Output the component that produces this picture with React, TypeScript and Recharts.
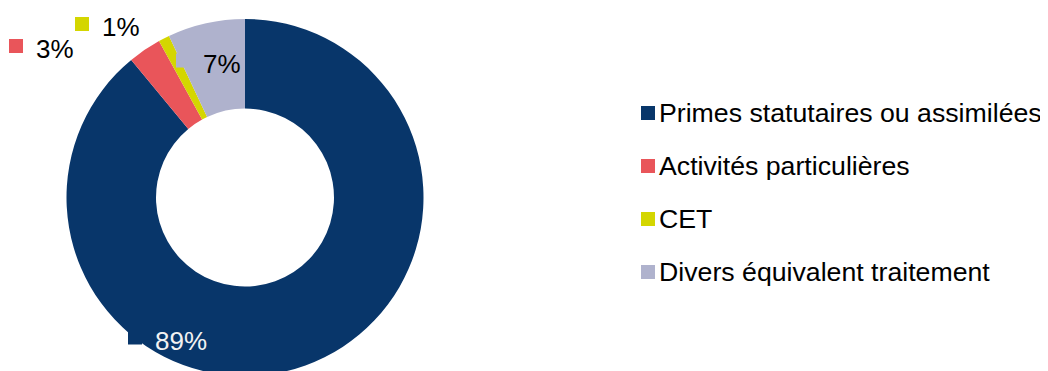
import { PieChart, Pie, Cell, Legend } from 'recharts'

const categories = ['Primes statutaires ou assimilées', 'Activités particulières', 'CET', 'Divers équivalent traitement']
const values = [89, 3, 1, 7]

const COLORS = ['#08366A', '#E9555A', '#D4D600', '#AFB2CD']
const LABEL_TEXT = ['#F2F2F2', '#000000', '#000000', '#000000']
// label placement relative to pie centre (placed by hand in the original)
const LABEL_OFFSETS = [
  { dx: -90, dy: 143 },
  { dx: -209, dy: -148.5 },
  { dx: -143, dy: -170.5 },
  { dx: -42, dy: -134 },
]

const FONT = '"Liberation Sans", Arial, sans-serif'

const data = categories.map((name, i) => ({ name, value: values[i] }))

const renderLabel = (props: any) => {
  const { cx, cy, index, percent } = props
  const off = LABEL_OFFSETS[index]
  const x = cx + off.dx
  const y = cy + off.dy
  return (
    <g key={`lbl-${index}`}>
      <rect x={x - 27} y={y - 10} width={14} height={14} fill={COLORS[index]} />
      <text
        x={x}
        y={y}
        fill={LABEL_TEXT[index]}
        fontSize={26}
        fontFamily={FONT}
        dominantBaseline="central"
        textAnchor="start"
      >
        {`${Math.round(percent * 100)}%`}
      </text>
    </g>
  )
}

const renderLegend = () => (
  <div style={{ fontFamily: FONT, fontSize: 26.7, color: '#000' }}>
    {categories.map((c, i) => (
      <div key={c} style={{ display: 'flex', alignItems: 'center', height: 53 }}>
        <span style={{ display: 'inline-block', width: 14, height: 14, background: COLORS[i], marginRight: 4, marginTop: -2 }} />
        <span style={{ whiteSpace: 'nowrap' }}>{c}</span>
      </div>
    ))}
  </div>
)

export default function App() {
  return (
    <div style={{ width: 1032, height: 363, background: '#fff' }}>
      <PieChart width={1032} height={363} margin={{ top: 0, right: 0, bottom: 0, left: 0 }}>
        <Pie
          data={data}
          dataKey="value"
          nameKey="name"
          cx={237}
          cy={189.5}
          innerRadius={89}
          outerRadius={178.5}
          startAngle={90}
          endAngle={-270}
          stroke="none"
          label={renderLabel}
          labelLine={false}
          isAnimationActive={false}
        >
          {data.map((d, i) => (
            <Cell key={d.name} fill={COLORS[i]} />
          ))}
        </Pie>
        <Legend
          content={renderLegend}
          wrapperStyle={{ position: 'absolute', left: 633, top: 79, width: 410 }}
        />
      </PieChart>
    </div>
  )
}
